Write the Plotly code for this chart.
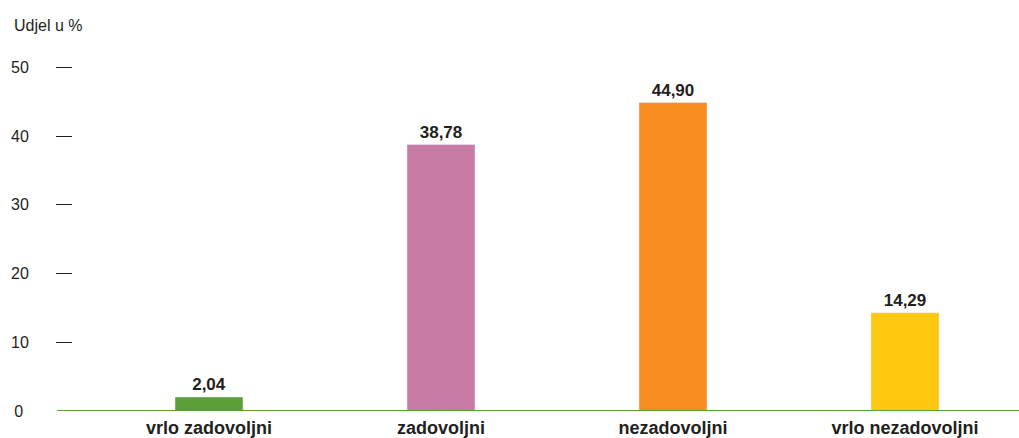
import plotly.graph_objects as go

categories = ["vrlo zadovoljni", "zadovoljni", "nezadovoljni", "vrlo nezadovoljni"]
values = [2.04, 38.78, 44.90, 14.29]
colors = ["#5b9f37", "#c87ba5", "#f68d1f", "#fdc80d"]
tick_vals = [10, 20, 30, 40, 50]
tick_text = ["10", "20", "30", "40", "50"]
zero_tick = [0]
zero_text = ["0\u00a0\u00a0"]
y_title = "Udjel u %"

W, H = 1019, 438
L, R, T, B = 73, 0, 50, 26.5
TXT = "#231f20"
FONT = "Liberation Sans, Arial, Helvetica, sans-serif"

xpos = list(range(len(categories)))
fig = go.Figure()
fig.add_trace(go.Bar(
    x=xpos, y=values, marker_color=colors, width=0.293,
    texttemplate="<b>%{y:.2f}</b>", textposition="outside",
    textfont=dict(size=17, color=TXT, family=FONT), cliponaxis=False,
    hoverinfo="skip",
))

px_per_unit = 232
first_center = 209
xmin = (L - first_center) / px_per_unit
xmax = (W - R - first_center) / px_per_unit
plot_h = H - T - B
ymax = 50 * plot_h / (411.5 - 67.5)

fig.update_layout(
    width=W, height=H, margin=dict(l=L, r=R, t=T, b=B, autoexpand=False),
    paper_bgcolor="white", plot_bgcolor="white",
    separators=",.", showlegend=False,
    font=dict(family=FONT, color=TXT, size=16),
    xaxis=dict(
        range=[xmin, xmax], tickvals=xpos,
        ticktext=["<b>" + c + "</b>" for c in categories],
        tickfont=dict(size=18, color=TXT), showgrid=False, zeroline=False,
        showline=False, ticks="", fixedrange=True, automargin=False,
        ticklabelstandoff=4,
    ),
    yaxis=dict(
        range=[0, ymax], tickvals=tick_vals, ticktext=tick_text,
        tickfont=dict(size=16, color=TXT), showgrid=False, zeroline=False,
        showline=False, ticks="outside", ticklen=16, tickwidth=1.2,
        tickcolor=TXT, ticklabelstandoff=24, fixedrange=True, automargin=False,
    ),
    yaxis2=dict(
        overlaying="y", side="left", range=[0, ymax], tickvals=zero_tick,
        ticktext=zero_text, tickfont=dict(size=16, color=TXT),
        showgrid=False, zeroline=False, showline=False, ticks="",
        ticklabelstandoff=40, fixedrange=True, automargin=False,
    ),
    shapes=[dict(type="line", xref="paper", yref="y", layer="above",
                 x0=(57 - L) / (W - L - R), x1=1, y0=0, y1=0,
                 line=dict(color="#5b9f3a", width=2.2))],
    annotations=[dict(text=y_title, xref="paper", yref="paper",
                      x=(12 - L) / (W - L - R), y=1 + (50 - 25) / plot_h,
                      xanchor="left", yanchor="middle", showarrow=False,
                      font=dict(size=16, color=TXT))],
)
# invisible trace so the overlaying axis is drawn
fig.add_trace(go.Scatter(x=[xpos[0]], y=[0], yaxis="y2", mode="markers",
                         marker=dict(opacity=0), hoverinfo="skip"))

fig.write_html("out.html", config={"displayModeBar": False},
               post_script="document.body.style.margin='0';document.body.style.padding='0';")
